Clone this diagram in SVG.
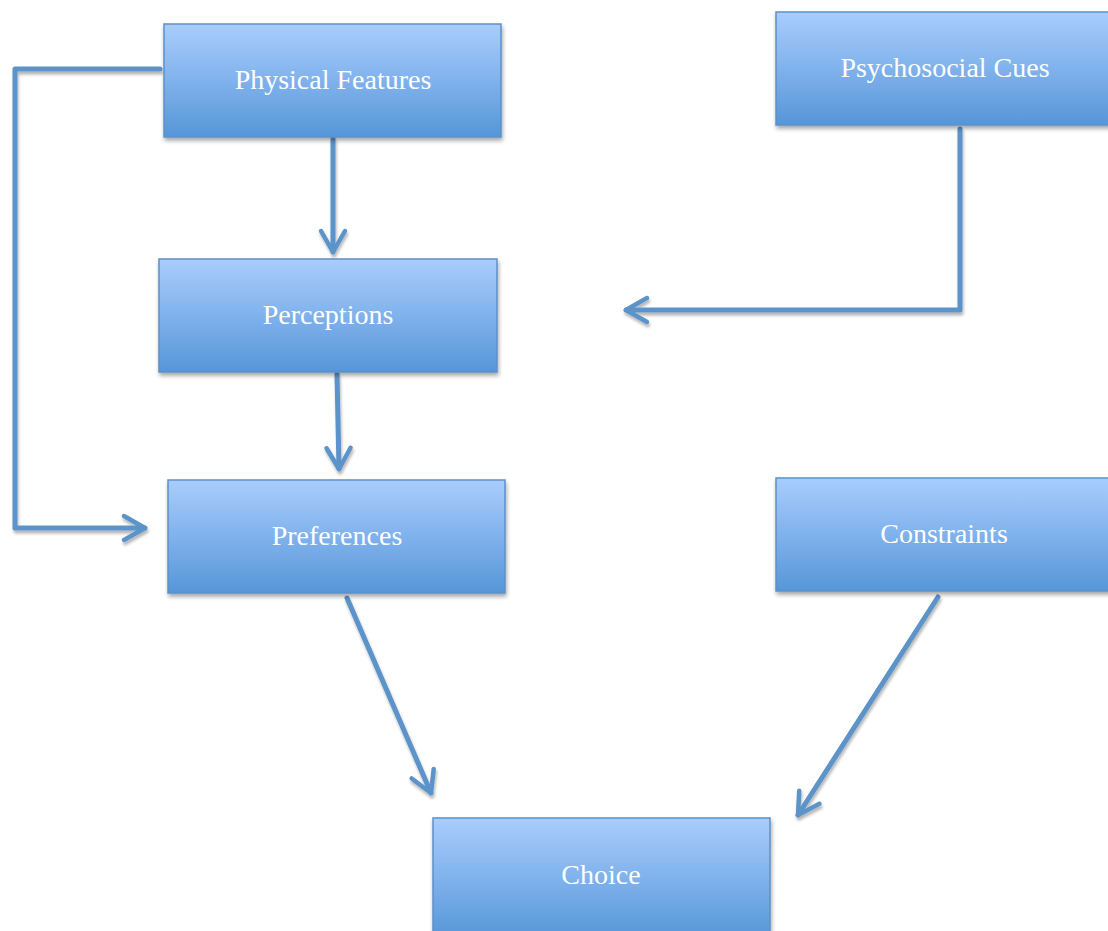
<svg xmlns="http://www.w3.org/2000/svg" width="1108" height="931" viewBox="0 0 1108 931">
<defs>
<linearGradient id="g" x1="0" y1="0" x2="0" y2="1">
<stop offset="0" stop-color="#a9cdfc"/>
<stop offset="0.5" stop-color="#80b2ec"/>
<stop offset="1" stop-color="#5696d8"/>
</linearGradient>
<filter id="sh" x="-10%" y="-10%" width="120%" height="130%">
<feGaussianBlur in="SourceAlpha" stdDeviation="2"/>
<feOffset dx="1" dy="3" result="b"/>
<feComponentTransfer><feFuncA type="linear" slope="0.35"/></feComponentTransfer>
<feMerge><feMergeNode/><feMergeNode in="SourceGraphic"/></feMerge>
</filter>
<filter id="shc" filterUnits="userSpaceOnUse" x="0" y="0" width="1108" height="931">
<feGaussianBlur in="SourceAlpha" stdDeviation="1.8"/>
<feOffset dx="1" dy="3" result="b"/>
<feComponentTransfer><feFuncA type="linear" slope="0.3"/></feComponentTransfer>
<feMerge><feMergeNode/><feMergeNode in="SourceGraphic"/></feMerge>
</filter>
<marker id="ah" viewBox="0 0 20 20" refX="17" refY="10" markerWidth="6" markerHeight="6" markerUnits="strokeWidth" orient="auto" overflow="visible">
<polyline points="3,2 17,10 3,18" fill="none" stroke="#5b93c9" stroke-width="3" stroke-linecap="round" stroke-linejoin="round"/>
</marker>
</defs>
<style>
.box{fill:url(#g);stroke:#5d90c7;stroke-width:1.5;filter:url(#sh)}
.lbl{font-family:"Liberation Serif","DejaVu Serif",serif;font-size:28px;fill:#ffffff;text-anchor:middle}
.c{fill:none;stroke:#5b93c9;stroke-width:5;stroke-linecap:round;stroke-linejoin:round}
</style>
<rect width="1108" height="931" fill="#ffffff"/>
<g id="connectors" filter="url(#shc)">
<polyline class="c" points="160,69 15,69 15,528 145,528" marker-end="url(#ah)"/>
<line class="c" x1="333" y1="139" x2="333" y2="252" marker-end="url(#ah)"/>
<line class="c" x1="337" y1="374" x2="339" y2="469" marker-end="url(#ah)"/>
<polyline class="c" points="960,129 960,310 626,310" marker-end="url(#ah)"/>
<line class="c" x1="347" y1="598" x2="431" y2="793" marker-end="url(#ah)"/>
<line class="c" x1="938" y1="597" x2="798" y2="815" marker-end="url(#ah)"/>
</g>
<g id="node-physical">
<rect class="box" x="164" y="24" width="337" height="113"/>
<text class="lbl" x="333" y="89">Physical Features</text>
</g>
<g id="node-psychosocial">
<rect class="box" x="776" y="12" width="340" height="113"/>
<text class="lbl" x="945" y="77">Psychosocial Cues</text>
</g>
<g id="node-perceptions">
<rect class="box" x="159" y="259" width="338" height="113"/>
<text class="lbl" x="328" y="324">Perceptions</text>
</g>
<g id="node-preferences">
<rect class="box" x="168" y="480" width="337" height="113"/>
<text class="lbl" x="337" y="545">Preferences</text>
</g>
<g id="node-constraints">
<rect class="box" x="776" y="478" width="340" height="113"/>
<text class="lbl" x="944" y="543">Constraints</text>
</g>
<g id="node-choice">
<rect class="box" x="433" y="818" width="337" height="120"/>
<text class="lbl" x="601" y="884">Choice</text>
</g>
</svg>
